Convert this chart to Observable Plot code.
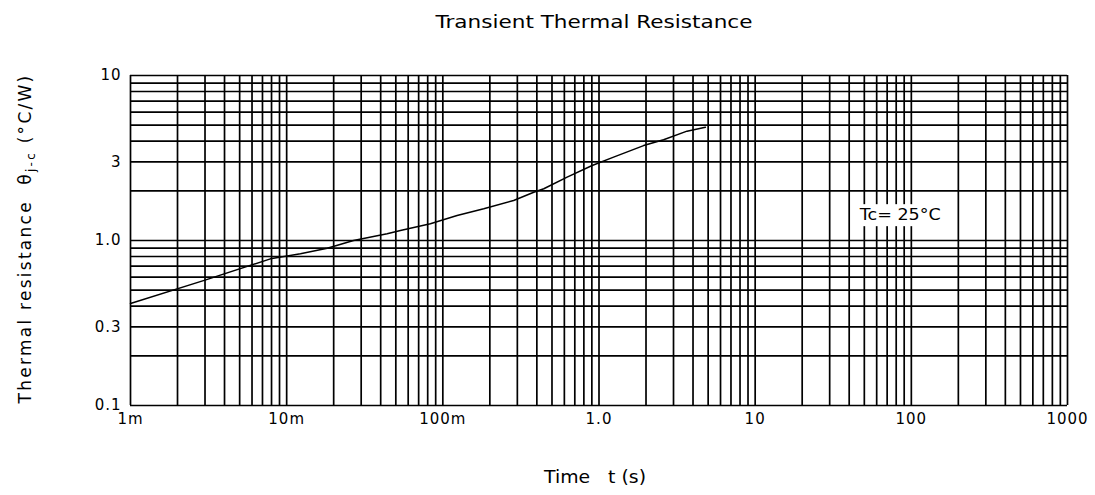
<!DOCTYPE html>
<html><head><meta charset="utf-8">
<script src="https://cdn.jsdelivr.net/npm/d3@7"></script>
<script src="https://cdn.jsdelivr.net/npm/@observablehq/plot@0.6"></script>
<style>
body{margin:0;background:#fff}
#chart svg g[aria-label="x-axis tick label"] text,
#chart svg g[aria-label="y-axis tick label"] text{letter-spacing:1px}
</style>
</head><body><div id="chart"></div>
<script>
// Curve: time (s) vs transient thermal resistance (°C/W)
const time = [0.001, 0.003, 0.00787, 0.01225, 0.0182, 0.0268, 0.044, 0.0535, 0.0832, 0.1234, 0.1828, 0.284, 0.382, 0.443, 0.625, 0.904, 1.24, 1.93, 2.59, 3.66, 4.8];
const resistance = [0.415, 0.575, 0.774, 0.831, 0.898, 1.0, 1.098, 1.15, 1.263, 1.417, 1.556, 1.747, 1.962, 2.058, 2.42, 2.85, 3.20, 3.76, 4.08, 4.60, 4.86];

const xTicks = [0.001, 0.01, 0.1, 1, 10, 100, 1000];
const xTickLabels = ["1m", "10m", "100m", "1.0", "10", "100", "1000"];
const yTicks = [0.1, 0.3, 1, 3, 10];
const yTickLabels = ["0.1", "0.3", "1.0", "3", "10"];

const titleText = "Transient Thermal Resistance";
const xLabelText = "Time   t (s)";
const yLabelText = "Thermal resistance  θj-c (°C/W)";
const noteText = "Tc= 25°C";
const noteTime = 85;
const noteValue = 1.42;

const xGrid = d3.scaleLog().domain([1e-3, 1e3]).ticks();
const yGrid = d3.scaleLog().domain([0.1, 10]).ticks();

const rows = time.map((t, i) => ({t, r: resistance[i]}));

const plot = Plot.plot({
  width: 1095, height: 495,
  marginLeft: 130, marginRight: 28, marginTop: 75, marginBottom: 90,
  style: {fontFamily: "DejaVu Sans", fontSize: "13px", color: "#000", background: "#fff"},
  x: {type: "log", domain: [1e-3, 1e3]},
  y: {type: "log", domain: [0.1, 10]},
  marks: [
    Plot.ruleX(xGrid, {stroke: "#000", strokeWidth: 1.7}),
    Plot.ruleY(yGrid, {stroke: "#000", strokeWidth: 1.7}),
    Plot.axisX({ticks: xTicks, tickFormat: d => xTickLabels[xTicks.indexOf(d)], tickSize: 0, tickPadding: 8, label: null, fontSize: 15}),
    Plot.axisY({ticks: yTicks, tickFormat: d => yTickLabels[yTicks.indexOf(d)], tickSize: 0, tickPadding: 9, label: null, fontSize: 15}),
    Plot.line(rows, {x: "t", y: "r", stroke: "#000", strokeWidth: 1.5}),
    Plot.text([noteText], {x: () => noteTime, y: () => noteValue, text: d => d, fontSize: 15, fill: "#000"}),
    Plot.text([titleText], {frameAnchor: "top", dx: -5, dy: -53, text: d => d, fontSize: 18, lineAnchor: "middle"}),
    Plot.text([xLabelText], {frameAnchor: "bottom", dx: -4, dy: 72, text: d => d, fontSize: 17, lineAnchor: "middle"}),
    Plot.text([yLabelText], {frameAnchor: "left", textAnchor: "middle", dx: -105, dy: -2, rotate: -90, text: d => d, fontSize: 17, lineAnchor: "middle"})
  ]
});
document.getElementById("chart").appendChild(plot);

// post-process: fit text widths to the reference, subscript, and the note's white box
const svg = d3.select(plot);
const textGroups = svg.selectAll('g[aria-label="text"]').nodes();
const widths = [81, 317, 102, 330];
textGroups.forEach((g, i) => {
  const t = d3.select(g).select("text");
  if (i === 3) {
    t.text(null);
    t.append("tspan").text("Thermal resistance  θ");
    t.append("tspan").attr("font-size", 12).attr("dy", 4).text("j-c");
    t.append("tspan").attr("dy", -4).text(" (°C/W)");
    const natural = t.node().getComputedTextLength();
    const n = yLabelText.length;
    t.style("letter-spacing", Math.max(0, Math.min(4, (widths[i] - natural) / n)) + "px");
  } else {
    t.attr("textLength", widths[i]).attr("lengthAdjust", "spacingAndGlyphs");
  }
});
const note = d3.select(textGroups[0]).select("text").node();
const bb = note.getBBox();
d3.select(textGroups[0]).insert("rect", "text")
  .attr("x", bb.x - 6).attr("y", bb.y - 2).attr("width", bb.width + 12).attr("height", bb.height + 4)
  .attr("fill", "#fff")
  .attr("transform", note.getAttribute("transform"));
</script>
</body></html>
